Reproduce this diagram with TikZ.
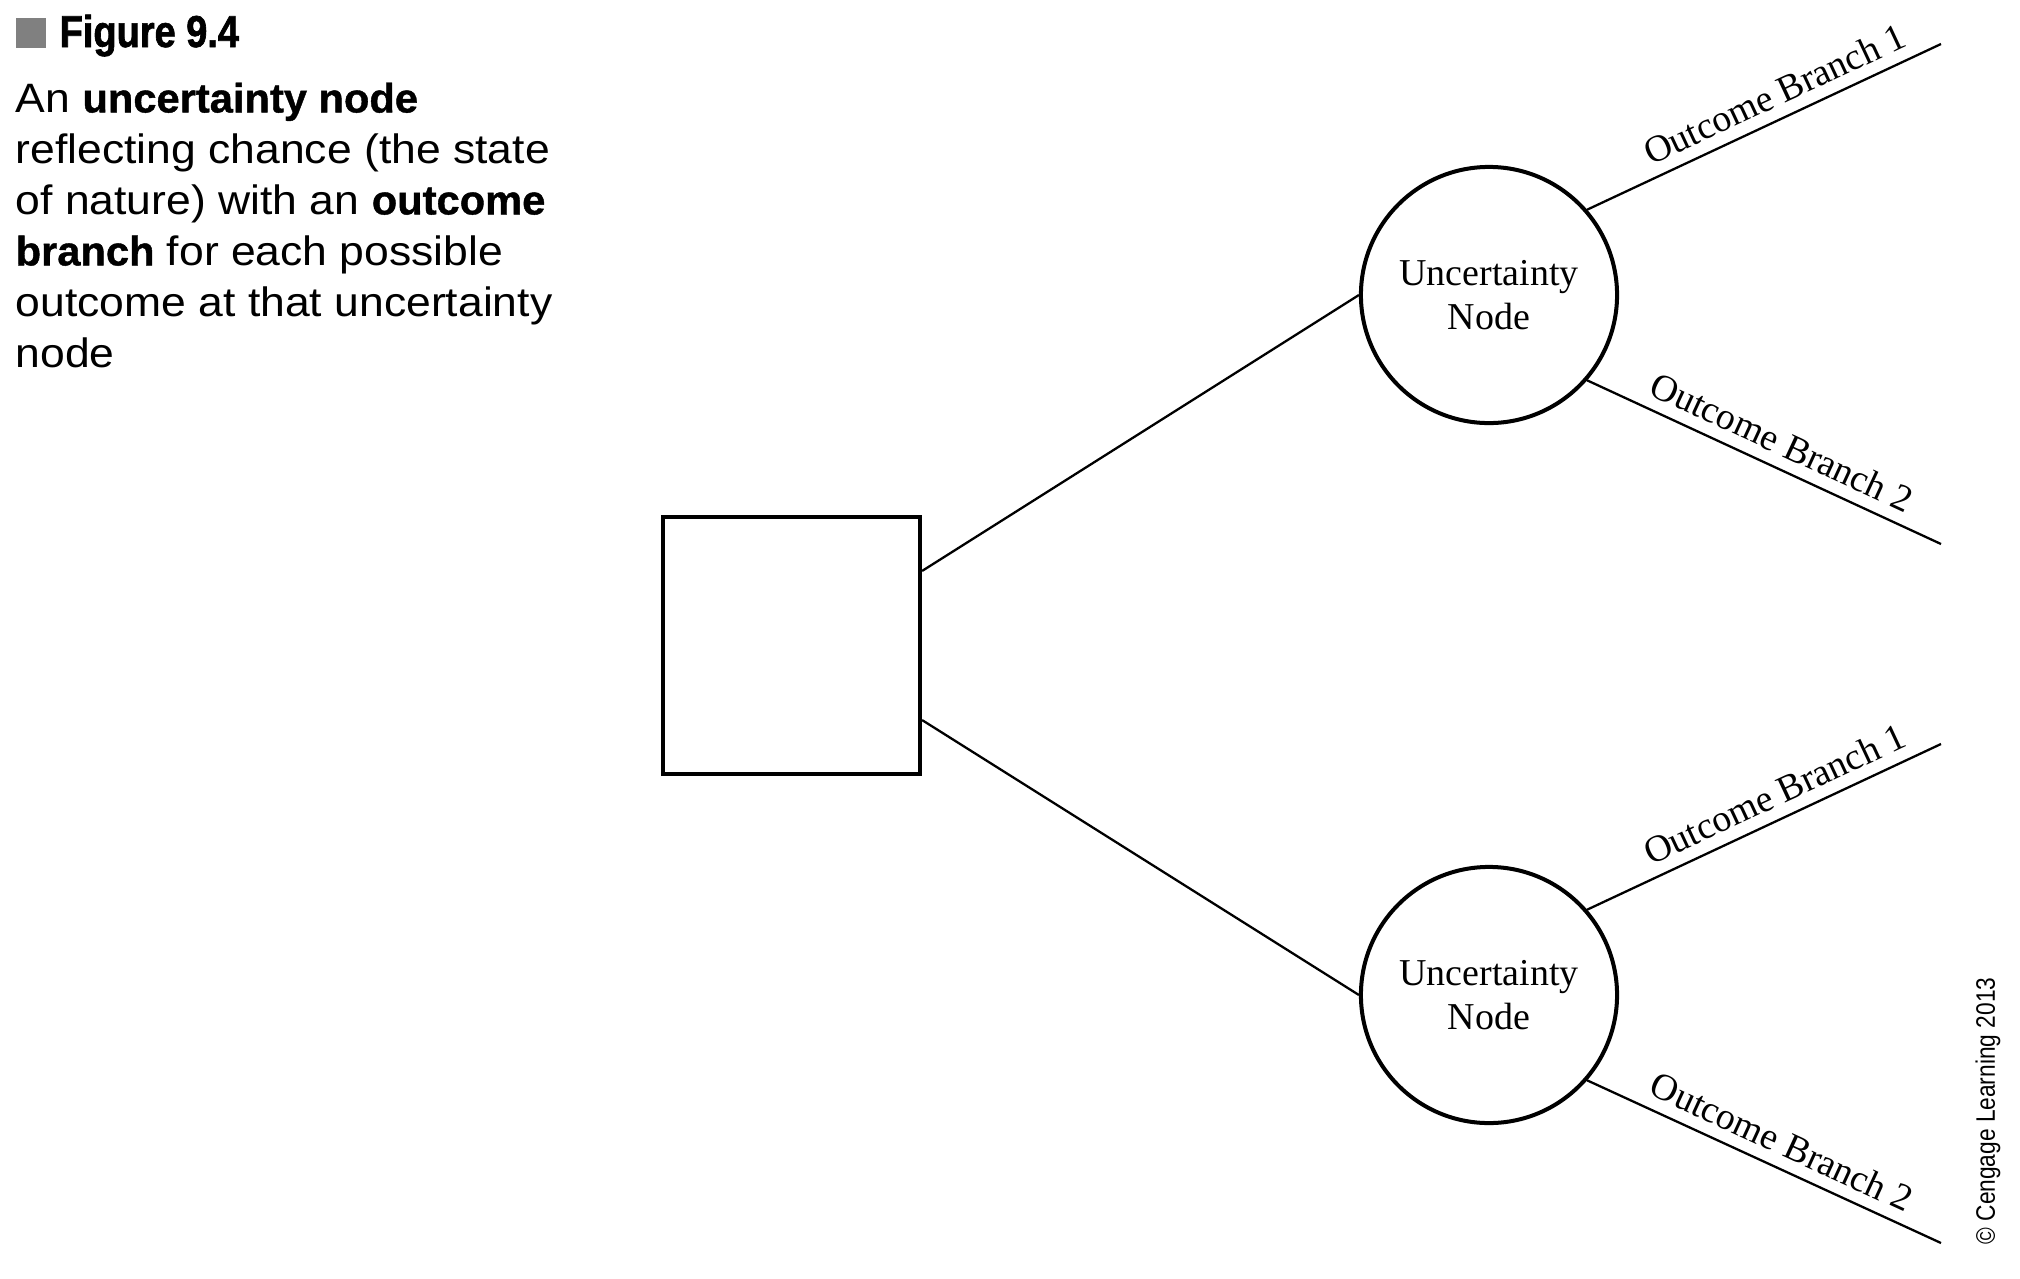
\documentclass[tikz,border=0pt]{standalone}
\usepackage{fontspec}
\setmainfont{Liberation Serif}
\newfontfamily\sansf[FakeStretch=1.084, BoldFeatures={FakeStretch=1.015, FakeBold=1}]{Liberation Sans}
\newfontfamily\condf[FakeStretch=0.85, BoldFeatures={FakeStretch=0.85, FakeBold=1.5}]{Liberation Sans}
\newfontfamily\copyf[FakeStretch=0.85]{Liberation Sans}
\definecolor{figgray}{HTML}{808080}
\tikzset{
  conn/.style={line width=0.65pt},
  boxnode/.style={draw, line width=1.14pt, minimum size=2.57cm, inner sep=0pt},
  unode/.style={circle, draw, line width=1.14pt, minimum size=2.56cm, inner sep=0pt,
    align=center, font=\fontsize{10.8}{12.5}\selectfont},
  lab/.style={sloped, above, inner sep=3.2pt, font=\fontsize{10.7}{12}\selectfont}
}
\begin{document}
\begin{tikzpicture}[x=0.01cm,y=-0.01cm]
\useasboundingbox (0,0) rectangle (2020,1278);
% header
\node[fill=figgray, minimum width=0.30cm, minimum height=0.30cm, inner sep=0pt, anchor=north west] (mark) at (15,17) {};
\node[anchor=base west, inner sep=0pt, font=\condf\bfseries\fontsize{12.7}{15}\selectfont] (fig) at (59,47) {Figure 9.4};
\node[anchor=north west, inner sep=0pt, align=left, font=\sansf\fontsize{11.67}{14.5}\selectfont] (desc) at (15,82)
  {An \textbf{uncertainty node}\\reflecting chance (the state\\of nature) with an \textbf{outcome}\\\textbf{branch} for each possible\\outcome at that uncertainty\\node};
% diagram
\node[boxnode] (sq) at (791.5,645.5) {};
\node[unode] (c1) at (1489,295) {Uncertainty\\Node};
\node[unode] (c2) at (1489,995) {Uncertainty\\Node};
\coordinate (e11) at (1941,44);
\coordinate (e12) at (1941,544);
\coordinate (e21) at (1941,744);
\coordinate (e22) at (1941,1243);
\draw[conn] ([yshift=0.745cm]sq.east) -- (c1.west);
\draw[conn] ([yshift=-0.745cm]sq.east) -- (c2.west);
\draw[conn] (c1.41) -- (e11) node[lab, pos=0.56] {Outcome Branch 1};
\draw[conn] (c1.-41) -- (e12) node[lab, pos=0.52] {Outcome Branch 2};
\draw[conn] (c2.41) -- (e21) node[lab, pos=0.56] {Outcome Branch 1};
\draw[conn] (c2.-41) -- (e22) node[lab, pos=0.52] {Outcome Branch 2};
\node[rotate=90, inner sep=0pt, font=\copyf\fontsize{7.6}{9}\selectfont] (copy) at (1988,1111) {© Cengage Learning 2013};
\end{tikzpicture}
\end{document}
